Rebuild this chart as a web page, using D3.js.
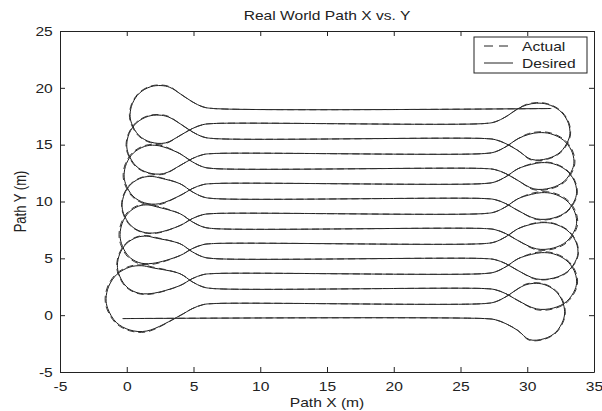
<!DOCTYPE html>
<html>
<head>
<meta charset="utf-8">
<script src="https://cdnjs.cloudflare.com/ajax/libs/d3/7.8.5/d3.min.js"></script>
<style>
body { margin: 0; background: #fff; }
text { font-family: Arial, "Liberation Sans", sans-serif; fill: #222; }
</style>
</head>
<body>
<div id="chart"></div>
<script>
// straight passes (m), bottom to top
var laneY = [-0.3, 1.02, 2.34, 3.66, 4.98, 6.3, 7.62, 8.94, 10.26, 11.58, 12.9, 14.22, 15.54, 16.86, 18.18];
var startX = -0.3, endX = 31.8;
var leftNeckX = 6.5, rightNeckX = 26.8;

// turn loops on the left side, bottom to top
var leftCx = [1.0, 1.4, 1.5, 1.8, 2.0, 2.3, 2.45];
var leftCy = [1.45, 4.4, 7.1, 9.7, 12.35, 15.0, 17.65];
var leftRx = [2.55, 2.1, 2.0, 2.15, 2.2, 2.3, 2.2];
var leftRy = [2.9, 2.55, 2.6, 2.5, 2.6, 2.6, 2.55];

// turn loops on the right side, bottom to top
var rightCx = [30.6, 31.2, 31.2, 31.2, 31.2, 31.0, 30.8];
var rightCy = [0.3, 3.0, 5.64, 8.28, 10.92, 13.56, 16.15];
var rightRx = [2.2, 2.5, 2.6, 2.5, 2.5, 2.5, 2.4];
var rightRy = [2.5, 2.5, 2.5, 2.5, 2.5, 2.5, 2.5];

// loop outline (unit)
var loopU = [0.2, -0.3, -0.7, -0.95, -1, -0.92, -0.68, -0.3, 0.05, 0.35];
var loopV = [-0.98, -0.95, -0.72, -0.3, 0, 0.38, 0.74, 0.96, 1, 0.94];
// neck: distance back from the end of the straight pass, offset from the pass
var neckIn = [[0, 0], [0.8, -0.1], [1.6, -0.45], [2.5, -1.05]];
var neckOut = [[2.5, 1.3], [1.6, 0.6], [0.8, 0.15], [0, 0]];

// actual run drifts a little wider in the loops
var actualGrowL = [0.07, 0.05, 0.08, 0.04, 0.07, 0.05, 0.05];
var actualGrowR = [0.05, 0.07, 0.04, 0.08, 0.05, 0.07, 0.05];

var xTicks = [-5, 0, 5, 10, 15, 20, 25, 30, 35];
var yTicks = [-5, 0, 5, 10, 15, 20, 25];

var width = 602, height = 411;
var plotL = 60, plotR = 594, plotT = 31, plotB = 372;
var stretch = 1.2; // text in the picture is wider than plain Arial

var x = d3.scaleLinear().domain([-5, 35]).range([plotL, plotR]);
var y = d3.scaleLinear().domain([-5, 25]).range([plotB, plotT]);

var svg = d3.select('#chart').append('svg')
    .attr('width', width)
    .attr('height', height);

svg.append('defs').append('clipPath').attr('id', 'clip')
    .append('rect')
    .attr('x', plotL).attr('y', plotT)
    .attr('width', plotR - plotL).attr('height', plotB - plotT);

function addLoop(pts, neckX, dir, cx, cy, rx, ry, ya, yb) {
    neckIn.forEach(function(d) { pts.push([neckX + dir * d[0], ya + d[1]]); });
    loopU.forEach(function(u, k) { pts.push([cx - dir * rx * u, cy + ry * loopV[k]]); });
    neckOut.forEach(function(d) { pts.push([neckX + dir * d[0], yb + d[1]]); });
}

function buildPath(growL, growR) {
    var pts = [[startX, laneY[0]]];
    for (var i = 0; i < 7; i++) {
        var gr = growR ? growR[i] : 0, gl = growL ? growL[i] : 0;
        addLoop(pts, rightNeckX, 1, rightCx[i], rightCy[i], rightRx[i] + gr, rightRy[i] + gr, laneY[2 * i], laneY[2 * i + 1]);
        addLoop(pts, leftNeckX, -1, leftCx[i], leftCy[i], leftRx[i] + gl, leftRy[i] + gl, laneY[2 * i + 1], laneY[2 * i + 2]);
    }
    pts.push([endX, laneY[14]]);
    return pts;
}

var line = d3.line()
    .x(function(d) { return x(d[0]); })
    .y(function(d) { return y(d[1]); })
    .curve(d3.curveCatmullRom.alpha(0.5));

var plot = svg.append('g').attr('clip-path', 'url(#clip)');

plot.append('path')
    .attr('d', line(buildPath(null, null)))
    .attr('fill', 'none')
    .attr('stroke', '#1a1a1a')
    .attr('stroke-width', 1);

plot.append('path')
    .attr('d', line(buildPath(actualGrowL, actualGrowR)))
    .attr('fill', 'none')
    .attr('stroke', '#333')
    .attr('stroke-width', 1)
    .attr('stroke-dasharray', '7,4');

// axes, ticks point inward
var fmt = function(d) { return String(d); };
svg.append('g')
    .attr('transform', 'translate(0,' + plotB + ')')
    .call(d3.axisBottom(x).tickValues(xTicks).tickSize(-5).tickSizeOuter(0).tickPadding(10).tickFormat(fmt));
svg.append('g')
    .attr('transform', 'translate(0,' + plotT + ')')
    .call(d3.axisTop(x).tickValues(xTicks).tickSize(-5).tickSizeOuter(0).tickFormat(''));
svg.append('g')
    .attr('transform', 'translate(' + plotL + ',0)')
    .call(d3.axisLeft(y).tickValues(yTicks).tickSize(-5).tickSizeOuter(0).tickPadding(6).tickFormat(fmt));
svg.append('g')
    .attr('transform', 'translate(' + plotR + ',0)')
    .call(d3.axisRight(y).tickValues(yTicks).tickSize(-5).tickSizeOuter(0).tickFormat(''));

svg.selectAll('.tick text')
    .attr('font-size', 13)
    .attr('font-family', 'Arial, "Liberation Sans", sans-serif')
    .attr('fill', '#222')
    .attr('transform', 'scale(' + stretch + ',1)');
svg.selectAll('.domain, .tick line').attr('stroke', '#222');

function label(txt, cx, cy, rot) {
    svg.append('text')
        .attr('transform', 'translate(' + cx + ',' + cy + ')' + (rot ? ' rotate(-90) scale(1,' + stretch + ')' : ' scale(' + stretch + ',1)'))
        .attr('text-anchor', 'middle').attr('font-size', 13)
        .text(txt);
}
label('Real World Path X vs. Y', (plotL + plotR) / 2, 20);
label('Path X (m)', (plotL + plotR) / 2, 407);
label('Path Y (m)', 26, (plotT + plotB) / 2, true);

// legend
var legend = svg.append('g');
legend.append('rect')
    .attr('x', 474).attr('y', 37).attr('width', 113).attr('height', 36)
    .attr('fill', '#fff').attr('stroke', '#222');
legend.append('line')
    .attr('x1', 484).attr('x2', 513).attr('y1', 46).attr('y2', 46)
    .attr('stroke', '#222').attr('stroke-dasharray', '9,6');
legend.append('line')
    .attr('x1', 484).attr('x2', 513).attr('y1', 63).attr('y2', 63)
    .attr('stroke', '#222');
legend.append('text').attr('transform', 'translate(522,51) scale(' + stretch + ',1)').attr('font-size', 13).text('Actual');
legend.append('text').attr('transform', 'translate(522,68) scale(' + stretch + ',1)').attr('font-size', 13).text('Desired');
</script>
</body>
</html>
